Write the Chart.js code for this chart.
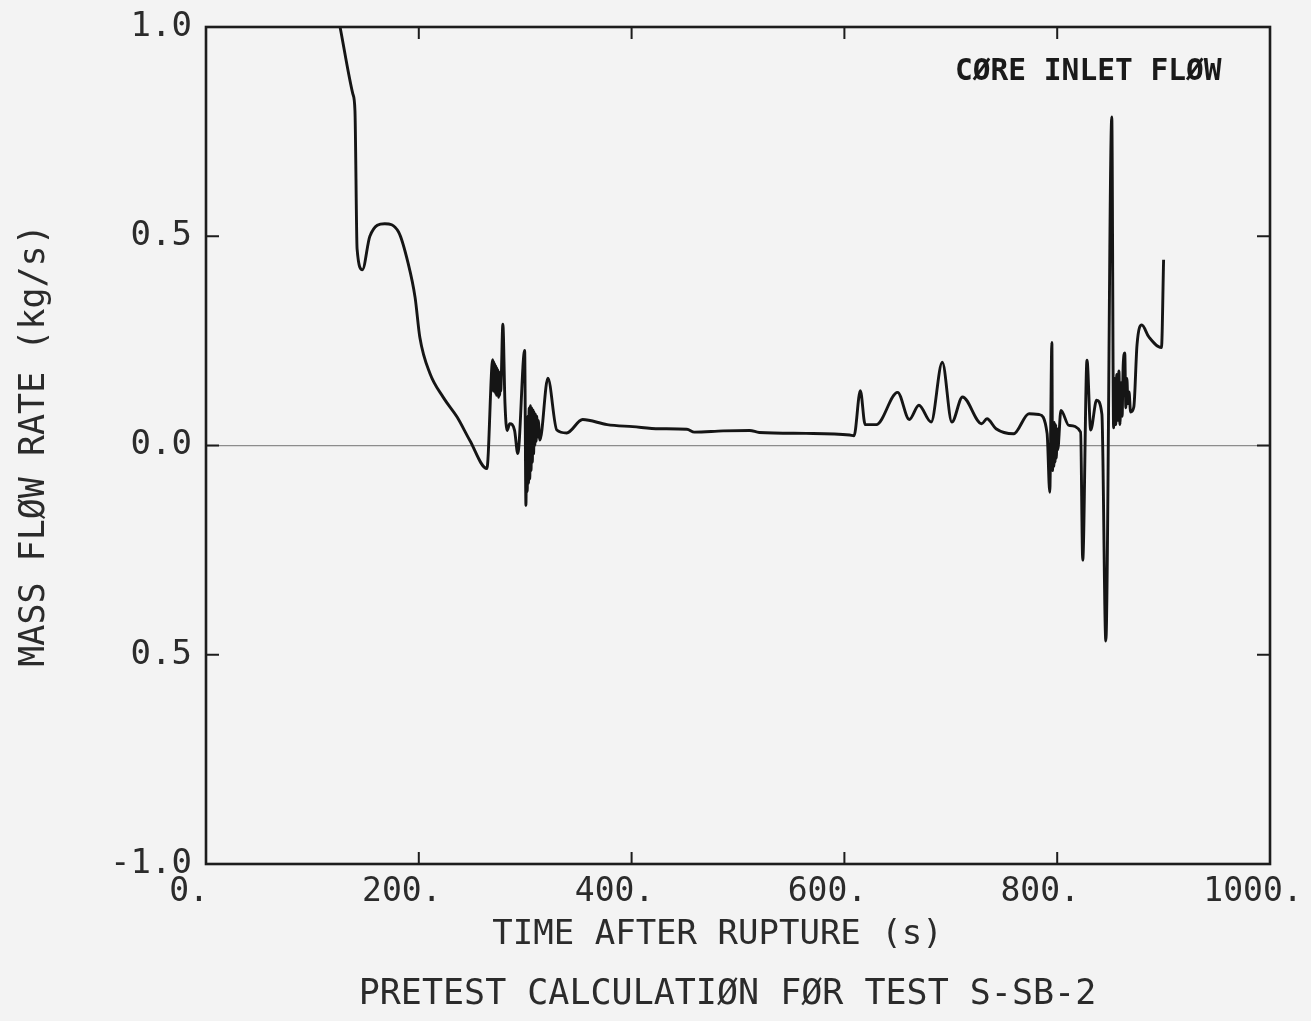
<!DOCTYPE html>
<html>
<head>
<meta charset="utf-8">
<script src="https://cdn.jsdelivr.net/npm/chart.js@4.4.1/dist/chart.umd.min.js"></script>
<style>
html,body{margin:0;padding:0;background:#f3f3f3;overflow:hidden}
#wrap{width:1311px;height:1021px;position:relative}
</style>
</head>
<body>
<div id="wrap"><canvas id="c" width="1311" height="1021"></canvas></div>
<script>
// ---- data ----
const times = [126,138,140,142,147,154,168,181,190,196.5,201,210.5,223,236,248,264,
  269.5,270,270.5,271,271.5,272,272.5,273,273.5,274,274.5,275,275.5,276,276.5,277,277.5,
  279,281,283,285.5,290,293,
  299.5,300.7,301.3,301.9,302.5,303.1,303.7,304.3,304.9,305.5,306.1,306.7,307.3,307.9,308.5,309.1,309.7,310.3,310.9,311.5,312.2,313.8,
  321.3,329.7,339,354,
  377,401,426,452,459,486,511,520,564,605,609,615,619.5,630,650,661,670,681.5,692,701,711,729,734,742.5,759,773.5,783,790.5,
  793,795,795.6,796.2,796.8,797.4,798,798.6,799.2,799.8,800.5,803.5,811,822,824,828,831.5,837,842,845.7,851.3,
  853,854,855,856,857,858,859,860,861,862,863.5,864.5,865.5,866.5,867.5,869,872,875,879.5,886,898,900];
const flow = [1.00,0.84,0.80,0.47,0.42,0.50,0.53,0.51,0.435,0.354,0.258,0.172,0.115,0.068,0.012,-0.055,
  0.205,0.13,0.20,0.13,0.195,0.125,0.19,0.12,0.185,0.12,0.18,0.115,0.175,0.12,0.17,0.13,0.16,
  0.29,0.10,0.036,0.052,0.036,-0.019,
  0.227,-0.143,0.05,-0.11,0.07,-0.09,0.09,-0.08,0.095,-0.06,0.09,-0.04,0.085,-0.02,0.08,0.0,0.075,0.01,0.07,0.02,0.06,0.013,
  0.161,0.037,0.030,0.062,
  0.050,0.045,0.040,0.039,0.032,0.035,0.036,0.031,0.029,0.025,0.023,0.131,0.05,0.05,0.127,0.062,0.096,0.056,0.199,0.056,0.116,0.052,0.064,0.040,0.028,0.076,0.074,0.029,
  -0.112,0.246,-0.06,0.05,-0.05,0.055,-0.04,0.05,-0.03,0.04,-0.01,0.084,0.048,0.032,-0.274,0.204,0.037,0.108,0.075,-0.467,0.785,
  0.042,0.16,0.05,0.17,0.06,0.178,0.05,0.15,0.07,0.19,0.221,0.09,0.16,0.10,0.128,0.08,0.092,0.24,0.288,0.26,0.234,0.444];

const xTickValues = [0,200,400,600,800,1000];
const yTickValues = [-1,-0.5,0,0.5,1];
const xTitle = 'TIME AFTER RUPTURE (s)';
const yTitle = 'MASS FLØW RATE (kg/s)';
const caption = 'PRETEST CALCULATIØN FØR TEST S-SB-2';
const annotationText = 'CØRE INLET FLØW';
const annotationAt = {x: 704, y: 0.892};

const FONT = "'DejaVu Sans Mono', 'Liberation Mono', monospace";
const TEXT = '#2b2b2b';

const framePlugin = {
  id: 'frame',
  afterDraw(chart) {
    const {ctx, chartArea: a, scales} = chart;
    ctx.save();
    ctx.strokeStyle = '#1c1c1c';
    ctx.lineWidth = 2.6;
    ctx.strokeRect(a.left, a.top, a.right - a.left, a.bottom - a.top);
    ctx.lineWidth = 2;
    ctx.beginPath();
    scales.x.ticks.forEach(t => {
      if (t.value <= scales.x.min || t.value >= scales.x.max) return;
      const px = scales.x.getPixelForValue(t.value);
      ctx.moveTo(px, a.bottom); ctx.lineTo(px, a.bottom - 12);
      ctx.moveTo(px, a.top); ctx.lineTo(px, a.top + 12);
    });
    scales.y.ticks.forEach(t => {
      if (t.value <= scales.y.min || t.value >= scales.y.max) return;
      const py = scales.y.getPixelForValue(t.value);
      ctx.moveTo(a.left, py); ctx.lineTo(a.left + 13, py);
      ctx.moveTo(a.right, py); ctx.lineTo(a.right - 13, py);
    });
    ctx.stroke();
    ctx.fillStyle = '#1a1a1a';
    ctx.font = "bold 29.5px " + FONT;
    ctx.textAlign = 'left';
    ctx.textBaseline = 'middle';
    ctx.fillText(annotationText, scales.x.getPixelForValue(annotationAt.x), scales.y.getPixelForValue(annotationAt.y));
    ctx.restore();
  }
};

Chart.defaults.font.family = FONT;
Chart.defaults.color = TEXT;

new Chart(document.getElementById('c'), {
  type: 'line',
  data: {
    datasets: [{
      data: times.map((t, i) => ({x: t, y: flow[i]})),
      borderColor: '#151515',
      borderWidth: 2.9,
      pointRadius: 0,
      fill: false,
      cubicInterpolationMode: 'monotone'
    }]
  },
  options: {
    responsive: false,
    animation: false,
    devicePixelRatio: 1,
    layout: {padding: {left: 0, top: 27, right: 41, bottom: 0}},
    plugins: {
      legend: {display: false},
      tooltip: {enabled: false},
      title: {
        display: true, position: 'bottom', fullSize: false, text: caption + ' ',
        color: TEXT, font: {size: 35, weight: 'normal', family: FONT},
        padding: {top: 0, bottom: 5}
      }
    },
    scales: {
      x: {
        type: 'linear', min: 0, max: 1000,
        afterBuildTicks: s => { s.ticks = xTickValues.map(v => ({value: v})); },
        ticks: {callback: v => v + '.', font: {size: 33}, padding: 9, labelOffset: -17, maxRotation: 0, autoSkip: false, color: TEXT},
        grid: {display: false, drawTicks: false},
        border: {display: false},
        title: {display: true, text: xTitle + '  ', font: {size: 34}, color: TEXT, padding: {top: 18, bottom: 18}},
        afterFit: s => { s.height = 110; s.paddingLeft = 0; s.paddingRight = 0; }
      },
      y: {
        type: 'linear', min: -1, max: 1,
        afterBuildTicks: s => { s.ticks = yTickValues.map(v => ({value: v})); },
        ticks: {callback: v => (v === -0.5 ? '0.5' : Number(v).toFixed(1)), font: {size: 34}, padding: 14, color: TEXT},
        grid: {drawTicks: false, lineWidth: 1.2, color: c => (c.tick && c.tick.value === 0 ? '#8c8c8c' : 'rgba(0,0,0,0)')},
        border: {display: false},
        title: {display: true, text: yTitle, font: {size: 35}, color: TEXT, padding: {top: 14, bottom: 14}},
        afterFit: s => { s.width = 206; s.paddingTop = 0; s.paddingBottom = 0; }
      }
    }
  },
  plugins: [framePlugin]
});
</script>
</body>
</html>
